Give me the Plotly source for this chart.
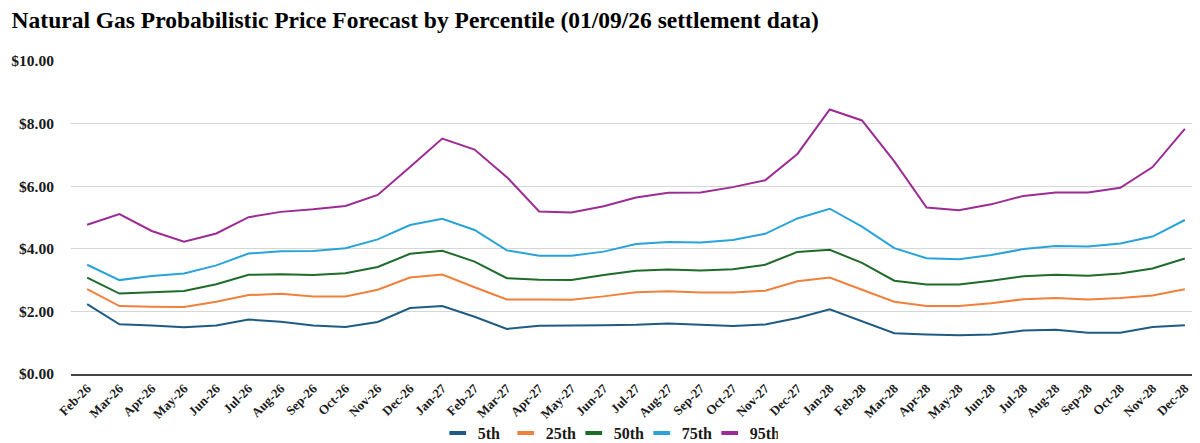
import plotly.graph_objects as go

months = ["Feb-26","Mar-26","Apr-26","May-26","Jun-26","Jul-26","Aug-26","Sep-26","Oct-26","Nov-26","Dec-26",
          "Jan-27","Feb-27","Mar-27","Apr-27","May-27","Jun-27","Jul-27","Aug-27","Sep-27","Oct-27","Nov-27","Dec-27",
          "Jan-28","Feb-28","Mar-28","Apr-28","May-28","Jun-28","Jul-28","Aug-28","Sep-28","Oct-28","Nov-28","Dec-28"]

p5 = [2.23,1.59,1.55,1.49,1.55,1.74,1.67,1.55,1.50,1.66,2.11,2.17,
      1.83,1.44,1.54,1.54,1.56,1.57,1.61,1.57,1.53,1.58,1.79,
      2.07,1.69,1.30,1.26,1.24,1.26,1.39,1.41,1.32,1.32,1.50,1.56]
p25 = [2.71,2.17,2.15,2.14,2.31,2.52,2.56,2.48,2.48,2.69,3.08,3.18,
       2.77,2.38,2.38,2.37,2.48,2.61,2.64,2.60,2.60,2.66,2.96,
       3.08,2.69,2.31,2.17,2.17,2.26,2.39,2.43,2.38,2.43,2.51,2.71]
p50 = [3.08,2.57,2.61,2.65,2.87,3.17,3.19,3.16,3.22,3.42,3.84,3.94,
       3.59,3.06,3.01,3.00,3.16,3.30,3.34,3.31,3.35,3.49,3.90,
       3.97,3.55,2.98,2.86,2.86,2.98,3.12,3.17,3.14,3.21,3.37,3.69]
p75 = [3.49,3.00,3.13,3.21,3.47,3.85,3.92,3.93,4.02,4.30,4.76,4.96,
       4.60,3.95,3.78,3.78,3.91,4.15,4.22,4.20,4.28,4.48,4.97,
       5.28,4.71,4.02,3.70,3.67,3.80,3.99,4.09,4.07,4.17,4.39,4.92]
p95 = [4.77,5.11,4.57,4.23,4.49,5.01,5.18,5.26,5.37,5.72,6.61,7.52,
       7.17,6.29,5.19,5.16,5.36,5.64,5.79,5.80,5.97,6.19,7.03,
       8.45,8.10,6.79,5.32,5.23,5.42,5.69,5.80,5.80,5.95,6.61,7.83]

series_names = ["5th", "25th", "50th", "75th", "95th"]
series_values = [p5, p25, p50, p75, p95]
colors = ["#1f5b82", "#f0803c", "#1e6b2a", "#29a3d8", "#9c2c94"]

y_ticks = [0, 2, 4, 6, 8, 10]
y_tick_labels = ["$0.00", "$2.00", "$4.00", "$6.00", "$8.00", "$10.00"]

FONT = "Liberation Serif"

fig = go.Figure()
for name, vals, col in zip(series_names, series_values, colors):
    fig.add_trace(go.Scatter(x=months, y=vals, mode="lines", name=name,
                             line=dict(color=col, width=2), showlegend=False))
# legend entries (short thick dashes)
for name, col in zip(series_names, colors):
    fig.add_trace(go.Scatter(x=[None], y=[None], mode="markers", name=name,
                             marker=dict(symbol="line-ew", size=12, color=col,
                                         line=dict(color=col, width=4))))

fig.update_layout(
    width=1200, height=443,
    autosize=False,
    margin=dict(l=63, r=7, t=53, b=77, autoexpand=False),
    paper_bgcolor="white", plot_bgcolor="white",
    font=dict(family=FONT, color="#1a1a1a", weight="bold"),
    title=dict(text="Natural Gas Probabilistic Price Forecast by Percentile (01/09/26 settlement data)",
               x=0.003, xref="container", xanchor="left",
               y=1 - 4 / 443, yref="container", yanchor="top",
               font=dict(family=FONT, size=23.5, color="#000000", weight="bold")),
    showlegend=True,
    legend=dict(orientation="h", x=0.475, xanchor="center",
                y=(443 - 425) / 443, yref="container", yanchor="middle",
                bgcolor="rgba(0,0,0,0)", entrywidth=23, entrywidthmode="pixels",
                font=dict(family=FONT, size=16, color="#1a1a1a", weight="bold")),
)
fig.update_xaxes(type="category", tickangle=-45, showgrid=False,
                 showline=True, linecolor="#444444", linewidth=1.5,
                 tickfont=dict(family=FONT, size=13, color="#1a1a1a", weight="bold"),
                 automargin=False, range=[-0.5, len(months) - 0.5])
fig.update_yaxes(range=[0, 10], tickmode="array", tickvals=y_ticks, ticktext=y_tick_labels,
                 showgrid=True, gridcolor="#d6d6d6", gridwidth=1, zeroline=False,
                 ticks="outside", ticklen=13, tickcolor="rgba(0,0,0,0)",
                 tickfont=dict(family=FONT, size=15.5, color="#1a1a1a", weight="bold"),
                 automargin=False)

fig.write_html("out.html")
